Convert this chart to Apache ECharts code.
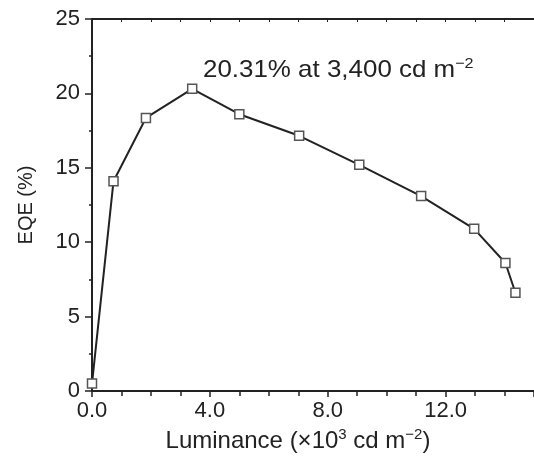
<!DOCTYPE html>
<html>
<head>
<meta charset="utf-8">
<script src="https://cdn.jsdelivr.net/npm/echarts@6/dist/echarts.min.js"></script>
<style>
  html, body { margin: 0; padding: 0; background: #fff; }
  #chart { width: 534px; height: 462px; }
</style>
</head>
<body>
<div id="chart"></div>
<script>
// luminance (x10^3 cd m^-2) and EQE (%)
const luminance = [0, 0.73, 1.83, 3.4, 5.0, 7.03, 9.07, 11.17, 12.97, 14.03, 14.37]
const eqe = [0.5, 14.1, 18.35, 20.31, 18.6, 17.15, 15.2, 13.1, 10.9, 8.6, 6.6]
const peakNote = '20.31% at 3,400 cd m{sup|\u22122}'

const font = 'Liberation Sans, Arial, sans-serif'
const ink = '#222'

const chart = echarts.init(document.getElementById('chart'))

chart.setOption({
  animation: false,
  grid: { left: 92, top: 19, bottom: 71, right: -8 },
  xAxis: [{
    type: 'value',
    min: 0,
    max: 15,
    interval: 4,
    name: 'Luminance (\u00D710{sup|3} cd m{sup|\u22122})',
    nameLocation: 'middle',
    nameGap: 30,
    nameTextStyle: {
      fontFamily: font, fontSize: 24, color: ink, padding: [0, 30, 0, 0], lineHeight: 28,
      rich: { sup: { fontFamily: font, fontSize: 15, color: ink, verticalAlign: 'top', lineHeight: 18 } }
    },
    axisLine: { lineStyle: { color: ink, width: 2 } },
    axisTick: { length: 6, lineStyle: { color: ink, width: 1.5 } },
    minorTick: { show: true, splitNumber: 4, length: 5, lineStyle: { color: ink, width: 1.5 } },
    splitLine: { show: false },
    axisLabel: {
      fontFamily: font, fontSize: 22, color: ink, margin: 9,
      showMaxLabel: false,
      formatter: v => v.toFixed(1)
    }
  }, {
    type: 'value',
    position: 'top',
    min: 0,
    max: 15,
    interval: 4,
    axisLine: { show: true, lineStyle: { color: ink, width: 2 } },
    axisTick: { inside: true, length: 3, lineStyle: { color: ink } },
    minorTick: { show: true, splitNumber: 4, length: 3, lineStyle: { color: ink } },
    splitLine: { show: false },
    axisLabel: { show: false }
  }],
  yAxis: {
    type: 'value',
    min: 0,
    max: 25,
    interval: 5,
    name: 'EQE (%)',
    nameLocation: 'middle',
    nameGap: 56,
    nameTextStyle: { fontFamily: font, fontSize: 20, color: ink },
    axisLine: { show: true, lineStyle: { color: ink, width: 2 } },
    axisTick: { length: 7, lineStyle: { color: ink, width: 1.5 } },
    minorTick: { show: true, splitNumber: 2, length: 3, lineStyle: { color: ink, width: 1.5 } },
    splitLine: { show: false },
    axisLabel: { fontFamily: font, fontSize: 22, color: ink, margin: 12 }
  },
  series: [{
    type: 'line',
    data: luminance.map((x, i) => [x, eqe[i]]),
    symbol: 'rect',
    symbolSize: 9,
    lineStyle: { color: ink, width: 2 },
    itemStyle: { color: '#fff', borderColor: '#555', borderWidth: 1.5 },
    z: 3
  }],
  graphic: [{
    type: 'text',
    x: 203,
    y: 56,
    scaleX: 1.08,
    style: {
      text: peakNote,
      font: '24px ' + font,
      fill: ink,
      lineHeight: 28,
      rich: { sup: { font: '15px ' + font, fill: ink, verticalAlign: 'top', lineHeight: 18 } }
    }
  }]
})
</script>
</body>
</html>
